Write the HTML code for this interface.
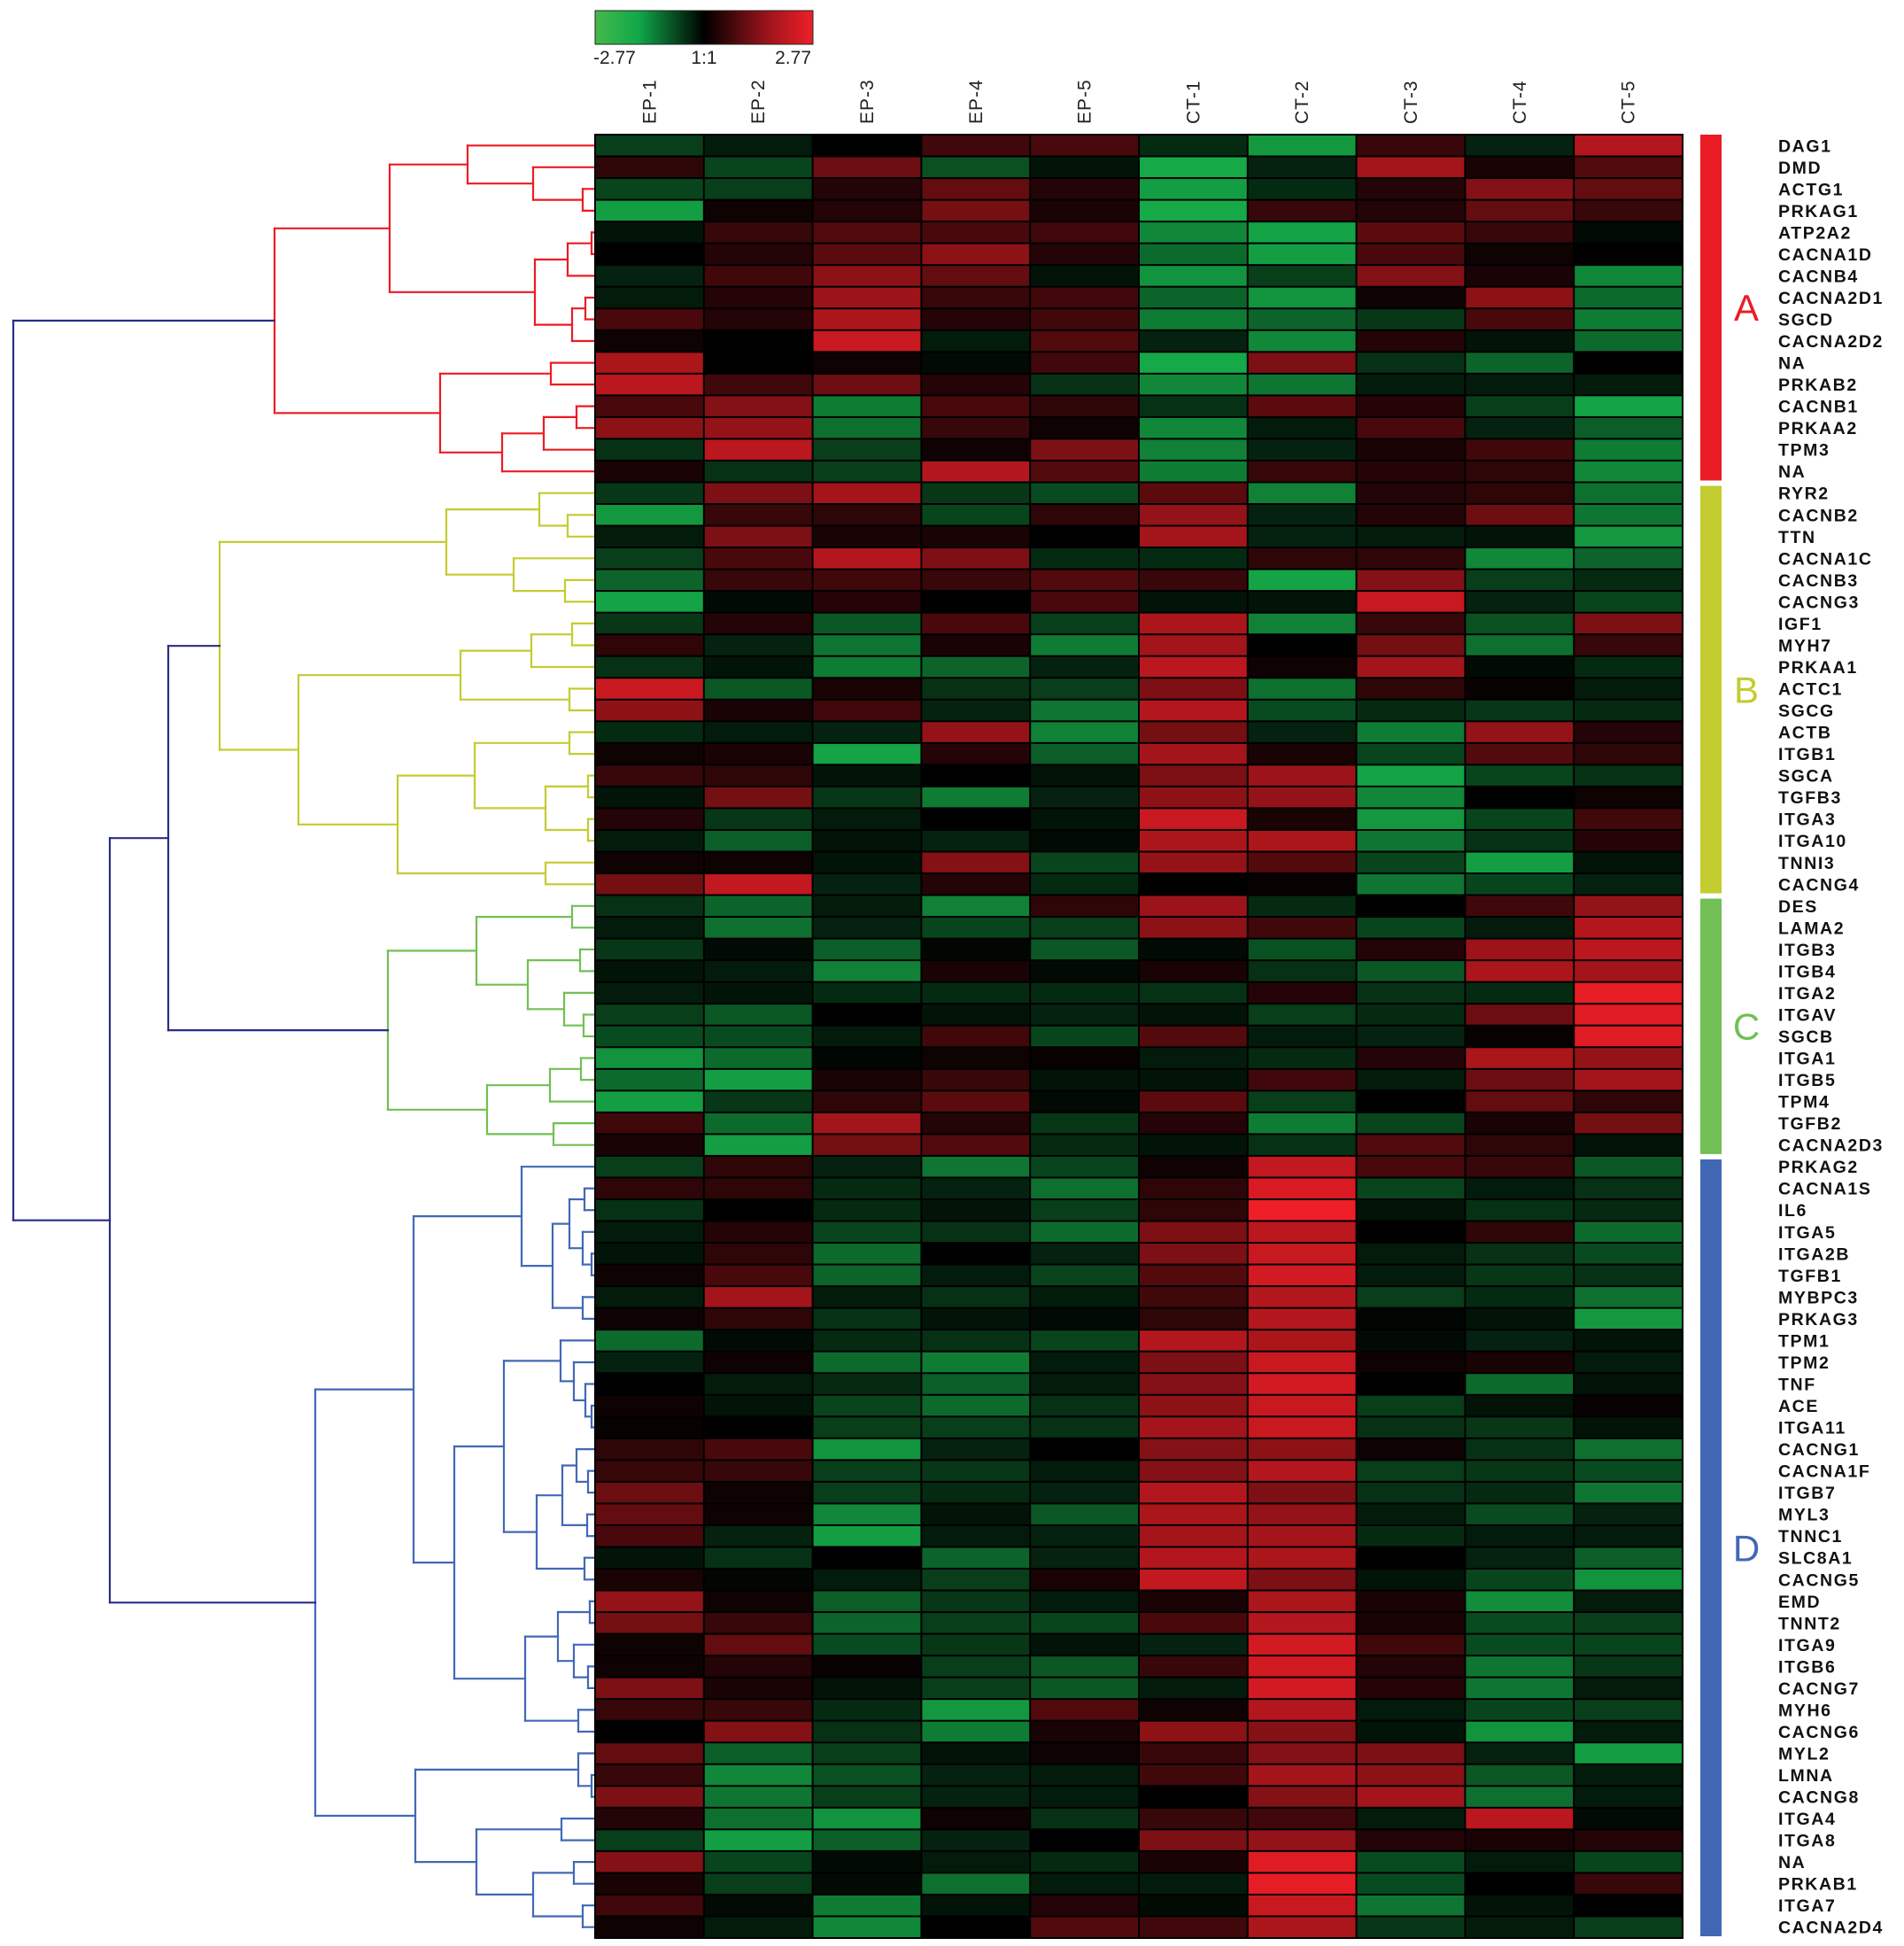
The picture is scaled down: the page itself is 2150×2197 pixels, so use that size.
<!DOCTYPE html>
<html><head><meta charset="utf-8">
<style>
html,body{margin:0;padding:0;background:#fff;}
svg{display:block;}
text{font-family:"Liberation Sans",Arial,sans-serif;}
</style></head>
<body>
<svg id="chart" width="2150" height="2197" viewBox="0 0 2150 2197" xmlns="http://www.w3.org/2000/svg">
<defs>
<linearGradient id="cbg" x1="0" x2="1" y1="0" y2="0">
<stop offset="0" stop-color="#46b84a"/><stop offset="0.2" stop-color="#10a84a"/><stop offset="0.5" stop-color="#000"/><stop offset="0.8" stop-color="#a0141c"/><stop offset="1" stop-color="#ee2028"/>
</linearGradient>
</defs>
<g id="colorbar">
<rect x="672" y="12" width="246" height="38" fill="url(#cbg)" stroke="#222" stroke-width="1"/>
<text x="670" y="72" font-size="21" fill="#222">-2.77</text>
<text x="795" y="72" font-size="21" fill="#222" text-anchor="middle">1:1</text>
<text x="916" y="72" font-size="21" fill="#222" text-anchor="end">2.77</text>
</g>
<g id="dendro"></g>
<g id="cells"></g>
<g id="collabels"></g>
<g id="rowlabels"></g>
<g id="clusters"></g>
</svg>
<script>
const samples = ["EP-1","EP-2","EP-3","EP-4","EP-5","CT-1","CT-2","CT-3","CT-4","CT-5"];
const genes = ["DAG1","DMD","ACTG1","PRKAG1","ATP2A2","CACNA1D","CACNB4","CACNA2D1","SGCD","CACNA2D2","NA","PRKAB2","CACNB1","PRKAA2","TPM3","NA",
"RYR2","CACNB2","TTN","CACNA1C","CACNB3","CACNG3","IGF1","MYH7","PRKAA1","ACTC1","SGCG","ACTB","ITGB1","SGCA","TGFB3","ITGA3","ITGA10","TNNI3","CACNG4",
"DES","LAMA2","ITGB3","ITGB4","ITGA2","ITGAV","SGCB","ITGA1","ITGB5","TPM4","TGFB2","CACNA2D3",
"PRKAG2","CACNA1S","IL6","ITGA5","ITGA2B","TGFB1","MYBPC3","PRKAG3","TPM1","TPM2","TNF","ACE","ITGA11","CACNG1","CACNA1F","ITGB7","MYL3","TNNC1","SLC8A1","CACNG5","EMD","TNNT2","ITGA9","ITGB6","CACNG7","MYH6","CACNG6","MYL2","LMNA","CACNG8","ITGA4","ITGA8","NA","PRKAB1","ITGA7","CACNA2D4"];
const values = [
[-0.8,-0.3,0,0.6,0.7,-0.5,-2.3,0.5,-0.4,2.0],
[0.4,-0.9,1.1,-1.1,-0.2,-2.6,-0.4,1.8,0.2,0.8],
[-0.9,-0.8,0.3,1.0,0.3,-2.4,-0.5,0.3,1.4,1.0],
[-2.4,0.1,0.3,1.2,0.2,-2.6,0.5,0.3,1.0,0.5],
[-0.2,0.5,0.8,0.7,0.6,-2.0,-2.5,0.9,0.5,-0.1],
[0,0.3,0.9,1.5,0.3,-1.5,-2.4,0.7,0.1,0],
[-0.4,0.6,1.5,1.0,-0.2,-2.2,-0.8,1.4,0.2,-2.0],
[-0.3,0.3,1.7,0.5,0.6,-1.4,-2.2,0.1,1.5,-1.5],
[0.7,0.3,1.9,0.3,0.6,-1.8,-1.4,-0.7,0.7,-1.8],
[0.1,0,2.3,-0.3,0.8,-0.4,-2.0,0.3,-0.2,-1.5],
[1.9,0,0.1,-0.1,0.6,-2.6,1.3,-0.6,-1.4,0],
[2.1,0.6,1.1,0.3,-0.6,-2.0,-1.7,-0.3,-0.3,-0.3],
[0.7,1.4,-1.8,0.7,0.4,-0.6,0.9,0.3,-0.8,-2.5],
[1.5,1.6,-1.6,0.5,0.1,-2.0,-0.3,0.7,-0.4,-1.3],
[-0.6,2.1,-0.8,0.1,1.3,-1.9,-0.4,0.2,0.6,-1.8],
[0.2,-0.6,-0.8,2.0,0.8,-1.8,0.5,0.3,0.4,-2.0],
[-0.7,1.3,1.8,-0.7,-1.0,0.9,-1.9,0.3,0.4,-1.6],
[-2.3,0.5,0.4,-0.9,0.4,1.6,-0.4,0.3,1.1,-1.7],
[-0.3,1.3,0.2,0.2,0,1.8,-0.4,-0.3,-0.2,-2.3],
[-0.8,0.7,2.0,1.3,-0.5,-0.5,0.4,0.4,-2.0,-1.4],
[-1.4,0.5,0.6,0.5,0.8,0.5,-2.5,1.4,-0.8,-0.5],
[-2.5,-0.1,0.3,0,0.7,-0.2,-0.2,2.3,-0.4,-0.9],
[-0.7,0.3,-1.2,0.7,-0.8,1.9,-1.9,0.5,-1.1,1.3],
[0.4,-0.4,-1.7,0.2,-1.8,1.8,0,1.2,-1.6,0.5],
[-0.6,-0.2,-1.8,-1.4,-0.4,2.1,0.1,1.8,-0.1,-0.5],
[2.3,-1.2,0.2,-0.6,-0.8,1.3,-1.6,0.4,0.05,-0.3],
[1.5,0.2,0.6,-0.4,-1.7,2.0,-1.0,-0.5,-0.7,-0.5],
[-0.5,-0.3,-0.4,1.6,-1.9,1.2,-0.4,-1.8,1.6,0.3],
[0.1,0.2,-2.5,0.3,-1.3,1.8,0.2,-0.9,0.8,0.4],
[0.5,0.4,-0.2,0,-0.2,1.3,1.7,-2.5,-0.9,-0.6],
[-0.2,1.2,-0.7,-1.8,-0.4,1.5,1.6,-2.0,0,0.1],
[0.3,-0.7,-0.3,0,-0.2,2.3,0.2,-2.3,-0.9,0.6],
[-0.3,-1.3,-0.2,-0.4,-0.1,1.9,1.9,-1.7,-0.6,0.3],
[0.1,0.1,-0.2,1.4,-0.9,1.6,0.8,-0.9,-2.4,-0.2],
[1.2,2.2,-0.4,0.3,-0.5,0,0.05,-1.7,-0.9,-0.4],
[-0.6,-1.4,-0.3,-1.9,0.4,1.7,-0.5,0,0.6,1.6],
[-0.3,-1.6,-0.4,-0.9,-0.8,1.5,0.6,-0.9,-0.3,2.0],
[-0.7,-0.1,-1.3,-0.05,-1.2,-0.1,-1.1,0.3,1.7,2.1],
[-0.2,-0.3,-1.9,0.2,-0.1,0.2,-0.6,-1.2,1.9,1.8],
[-0.3,-0.2,-0.5,-0.5,-0.5,-0.6,0.3,-0.6,-0.5,2.7],
[-0.8,-1.2,0,-0.2,-0.4,-0.2,-0.8,-0.5,1.1,2.6],
[-1.0,-1.0,-0.3,0.6,-0.9,0.8,-0.3,-0.4,0.05,2.6],
[-2.2,-1.5,-0.05,0.1,0.05,-0.3,-0.5,0.3,1.9,1.6],
[-1.5,-2.4,0.2,0.5,-0.2,-0.2,0.6,-0.3,1.1,1.8],
[-2.4,-0.7,0.4,0.9,-0.1,0.9,-0.8,0,1.0,0.4],
[0.6,-1.5,1.8,0.3,-0.7,0.3,-1.8,-0.9,0.2,1.2],
[0.2,-2.4,1.2,0.8,-0.5,-0.2,-0.6,0.8,0.4,-0.2],
[-0.8,0.4,-0.4,-1.7,-0.9,0.1,2.2,0.7,0.5,-1.2],
[0.4,0.4,-0.5,-0.4,-1.6,0.4,2.5,-0.9,-0.3,-0.6],
[-0.6,0,-0.5,-0.2,-0.8,0.4,2.8,-0.2,-0.6,-0.5],
[-0.3,0.3,-0.9,-0.6,-1.5,1.3,2.1,0,0.4,-1.5],
[-0.2,0.4,-1.5,0,-0.4,1.3,2.3,-0.3,-0.6,-1.0],
[0.1,0.7,-1.4,-0.3,-0.9,0.8,2.4,-0.3,-0.7,-0.6],
[-0.3,1.8,-0.3,-0.6,-0.3,0.6,2.0,-0.8,-0.5,-1.6],
[0.1,0.4,-0.6,-0.2,-0.1,0.4,2.0,-0.05,-0.2,-2.3],
[-1.5,-0.1,-0.5,-0.6,-0.9,2.0,1.9,-0.1,-0.4,-0.2],
[-0.4,0.1,-1.5,-1.8,-0.3,1.3,2.3,0.1,0.2,-0.3],
[0,-0.3,-0.5,-1.3,-0.3,1.4,2.4,0,-1.5,-0.2],
[0.1,-0.2,-0.9,-1.5,-0.6,1.5,2.3,-0.8,-0.2,0.05],
[0.05,0,-0.8,-0.8,-0.6,1.8,2.3,-0.6,-0.7,-0.2],
[0.4,0.7,-2.2,-0.4,0,1.4,1.5,0.1,-0.6,-1.6],
[0.5,0.5,-0.8,-0.7,-0.3,1.4,2.0,-0.8,-0.7,-1.0],
[1.1,0.1,-0.8,-0.5,-0.4,2.0,1.3,-0.6,-0.5,-1.7],
[1.0,0.1,-2.0,-0.2,-1.2,1.9,1.6,-0.3,-1.0,-0.4],
[0.7,-0.4,-2.4,-0.3,-0.4,1.8,1.8,-0.5,-0.3,-0.3],
[-0.2,-0.6,0,-1.4,-0.4,2.0,1.9,0,-0.4,-1.3],
[0.2,-0.05,-0.3,-0.8,0.2,2.2,1.3,-0.2,-0.9,-2.2],
[1.6,0.1,-1.3,-0.7,-0.3,0.2,1.9,0.2,-2.1,-0.3],
[1.2,0.5,-1.4,-0.8,-0.9,0.7,2.0,0.2,-1.0,-0.8],
[0.1,1.0,-1.0,-0.7,-0.2,-0.4,2.4,0.6,-1.0,-0.9],
[0.1,0.3,0.05,-0.8,-1.2,0.5,2.4,0.3,-1.7,-0.7],
[1.3,0.2,-0.2,-0.8,-1.2,-0.3,2.4,0.3,-1.7,-0.3],
[0.5,0.5,-0.5,-2.3,0.8,0.1,2.0,-0.3,-0.9,-0.8],
[0,1.4,-0.6,-1.8,0.2,1.5,1.4,-0.2,-2.2,-0.3],
[1.0,-1.3,-0.8,-0.2,0.1,0.5,1.4,1.3,-0.4,-2.4],
[0.5,-2.0,-1.1,-0.4,-0.3,0.6,1.8,1.5,-1.2,-0.3],
[1.3,-1.7,-0.8,-0.4,-0.3,0,1.4,1.8,-1.6,-0.3],
[0.3,-1.6,-2.2,0.1,-0.6,0.5,0.6,-0.3,2.1,-0.1],
[-0.8,-2.4,-1.3,-0.4,0,1.3,1.6,0.3,0.2,0.3],
[1.4,-0.9,-0.1,-0.3,-0.5,0.2,2.6,-1.0,-0.3,-0.9],
[0.2,-0.8,-0.1,-1.6,-0.3,-0.3,2.7,-1.0,0,0.5],
[0.6,-0.1,-1.8,-0.2,0.3,-0.1,2.3,-1.7,-0.2,0],
[0.1,-0.3,-2.0,0,0.8,0.6,1.9,-0.7,-0.3,-0.8]
];
const clusterNames = ["A","B","C","D"];
const clusterStarts = [0,16,35,47];
const clusterEnds = [16,35,47,83];
const clusterColors = ["#ec1c24","#c3cc30","#72bf55","#4268b5"];
// dendrogram merges: [mergeHeight(px), left, right, optionalColor]
const treeA = [310,
  [440,[528,0,[602,1,[658,2,3]]],[604,[641,[668,4,5],6],[646,[661,7,8],9]]],
  [497,[622,10,11],[567,[614,[651,12,13],14],15]], "#ec1c24"];
const treeB = [248,
  [504,[609,16,[641,17,18]],[580,19,[638,20,21]]],
  [337,[520,[600,[646,22,23],24],[643,25,26]],[449,[536,[643,27,28],[616,[664,29,30],[664,31,32]]],[616,33,34]]], "#c3cc30"];
const treeC = [438,
  [538,[646,35,36],[596,[655,37,38],[637,39,[659,40,41]]]],
  [550,[621,[656,42,43],44],[625,45,46]], "#72bf55"];
const treeD = [356,
  [467,[589,47,[624,[643,[660,48,49],[658,50,[668,51,52]]],[658,53,54]]],
       [513,[569,[633,55,[648,56,[661,57,[668,58,59]]]],[606,[635,[651,60,[664,61,62]],[663,63,64]],[660,65,66]]],
            [593,[630,[666,67,68],[648,69,[664,70,71]]],[653,72,73]]]],
  [469,[653,74,[668,75,76]],[538,[634,77,78],[602,[648,79,80],[658,81,82]]]], "#4268b5"];
const tree = [15, treeA, [124, [190, treeB, treeC], treeD], "#2a2d86"];

const NS = "http://www.w3.org/2000/svg";
const HX0 = 672, HX1 = 1900, HY0 = 152, HY1 = 2188;
const nR = genes.length, nC = samples.length;
const cw = (HX1-HX0)/nC, rh = (HY1-HY0)/nR;
const xCol = j => HX0 + j*cw;
const yRow = i => HY0 + i*rh;
const VMAX = 2.8;
function color(v){
  let t = Math.min(Math.abs(v)/VMAX,1);
  t = Math.pow(t,0.85);
  if (v >= 0) return `rgb(${Math.round(238*t)},${Math.round(30*t)},${Math.round(38*t)})`;
  return `rgb(${Math.round(22*t)},${Math.round(180*t)},${Math.round(76*t)})`;
}
function mk(tag, attrs, parent){
  const e = document.createElementNS(NS, tag);
  for (const k in attrs) e.setAttribute(k, attrs[k]);
  parent.appendChild(e); return e;
}
// heatmap
const cells = document.getElementById('cells');
const bg = mk('rect',{x:HX0-1,y:HY0-1,width:HX1-HX0+2,height:HY1-HY0+2,fill:'#000'},cells);


for (let i=0;i<nR;i++){
  for (let j=0;j<nC;j++){
    const r = mk('rect',{x:(xCol(j)+1).toFixed(2),y:(yRow(i)+1).toFixed(2),width:(cw-2).toFixed(2),height:(rh-2).toFixed(2),fill:color(values[i][j])},cells);
    
    
  }
}
// column labels
const cl = document.getElementById('collabels');
samples.forEach((s,j)=>{
  const cx = xCol(j)+cw/2+7;
  const t = mk('text',{x:cx,y:140,'font-size':21,fill:'#222',transform:`rotate(-90 ${cx} 140)`,'letter-spacing':'1'},cl);
  t.textContent = s;
  
  
});
// row labels
const rl = document.getElementById('rowlabels');
genes.forEach((g,i)=>{
  const t = mk('text',{x:2008,y:(yRow(i)+rh/2+7).toFixed(1),'font-size':19.5,fill:'#111','letter-spacing':'1.6','font-weight':'bold'},rl);
  t.textContent = g;
  
  
});
// cluster bars
const cg = document.getElementById('clusters');
clusterNames.forEach((c,k)=>{
  const y0 = yRow(clusterStarts[k])+(k?4:0), y1 = yRow(clusterEnds[k])-2;
  const b = mk('rect',{x:1920,y:y0,width:24,height:y1-y0,fill:clusterColors[k]},cg);
  
  
  const t = mk('text',{x:1972,y:((y0+y1)/2+15).toFixed(1),'font-size':42,fill:clusterColors[k],'text-anchor':'middle'},cg);
  t.textContent = c;
  
  
});
// dendrogram
const dg = document.getElementById('dendro');
function seg(x1,y1,x2,y2,col){
  const l = mk('line',{x1:x1,y1:y1.toFixed(1),x2:x2,y2:y2.toFixed(1),stroke:col,'stroke-width':2.2,'stroke-linecap':'square'},dg);
  
  
}
function draw(n, inherited){
  if (typeof n === 'number') return {x:HX0, y:yRow(n)+rh/2};
  const col = n[3] || inherited;
  const a = draw(n[1], col), b = draw(n[2], col);
  const h = n[0];
  seg(a.x,a.y,h,a.y,col);
  seg(b.x,b.y,h,b.y,col);
  seg(h,a.y,h,b.y,col);
  return {x:h, y:(a.y+b.y)/2};
}
draw(tree, "#2a2d86");
</script>
</body></html>
